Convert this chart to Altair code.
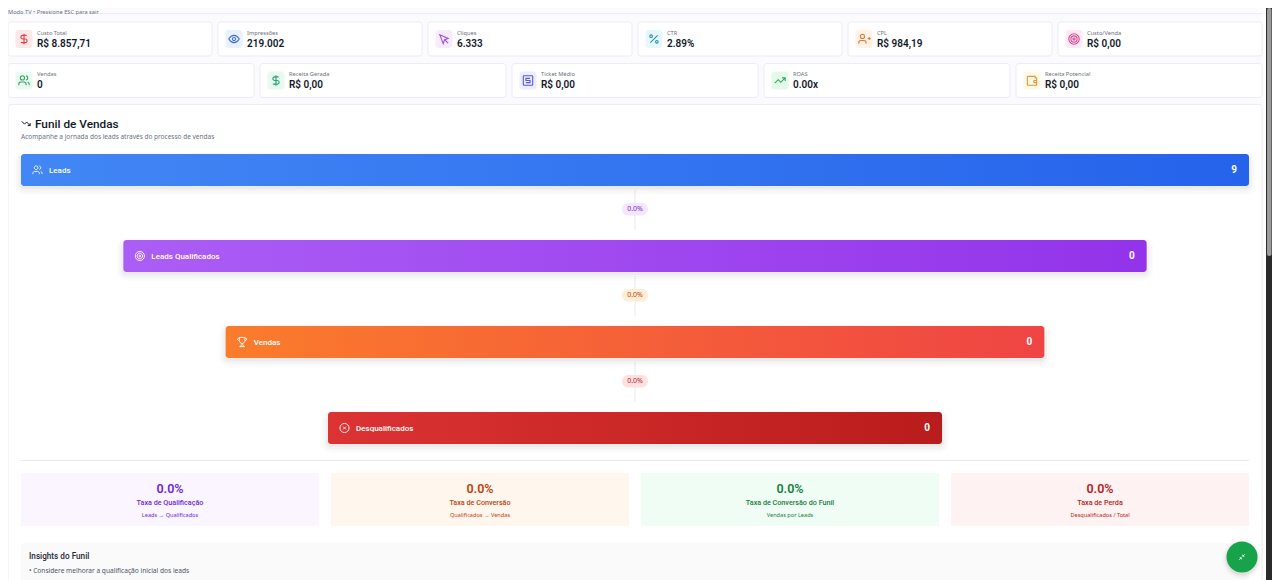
import altair as alt
import pandas as pd

# KPI rows
top_labels = ["Custo Total", "Impressões", "Cliques", "CTR", "CPL", "Custo/Venda"]
top_values = ["R$ 8.857,71", "219.002", "6.333", "2.89%", "R$ 984,19", "R$ 0,00"]
top_icons = ["dollar", "eye", "cursor", "percent", "userplus", "target"]
bottom_labels = ["Vendas", "Receita Gerada", "Ticket Médio", "ROAS", "Receita Potencial"]
bottom_values = ["0", "R$ 0,00", "R$ 0,00", "0.00x", "R$ 0,00"]
bottom_icons = ["users", "dollar", "ticket", "trendup", "wallet"]

# funnel
stage_names = ["Leads", "Leads Qualificados", "Vendas", "Desqualificados"]
stage_counts = [9, 0, 0, 0]
stage_widths = [100, 83.33, 66.67, 50]  # percent of the funnel width
stage_icons = ["users", "target", "trophy", "circlex"]
step_rates = ["0.0%", "0.0%", "0.0%"]

# rate boxes
rate_values = ["0.0%", "0.0%", "0.0%", "0.0%"]
rate_names = ["Taxa de Qualificação", "Taxa de Conversão", "Taxa de Conversão do Funil", "Taxa de Perda"]
rate_notes = ["Leads → Qualificados", "Qualificados → Vendas", "Vendas por Leads", "Desqualificados / Total"]

FONT = "Noto Sans"
STRONG = "Roboto"  # narrower, for the larger figures and headings
W, H = 1264, 572  # anything wider gets squeezed by the page

ICON_PATHS = {
    "dollar": "M0-10v20M5-7h-7.5a3.5 3.5 0 0 0 0 7h5a3.5 3.5 0 0 1 0 7h-8.5",
    "eye": "M-10 0C-7-5-3.5-7 0-7S7-5 10 0C7 5 3.5 7 0 7S-7 5-10 0ZM3 0a3 3 0 1 1-6 0a3 3 0 1 1 6 0Z",
    "cursor": "M-8-8L-1.5 9L1 1.5L8-1ZM2 2L8 8",
    "percent": "M7-7L-7 7M-3-5.5a2.5 2.5 0 1 1-5 0a2.5 2.5 0 1 1 5 0ZM8 5.5a2.5 2.5 0 1 1-5 0a2.5 2.5 0 1 1 5 0Z",
    "userplus": "M4 9v-2a4 4 0 0 0-4-4h-6a4 4 0 0 0-4 4v2M1-5a4 4 0 1 1-8 0a4 4 0 1 1 8 0ZM7-1h6M10-4v6",
    "target": "M10 0a10 10 0 1 1-20 0a10 10 0 1 1 20 0ZM6 0a6 6 0 1 1-12 0a6 6 0 1 1 12 0ZM2 0a2 2 0 1 1-4 0a2 2 0 1 1 4 0Z",
    "users": "M4 9v-2a4 4 0 0 0-4-4h-6a4 4 0 0 0-4 4v2M1-5a4 4 0 1 1-8 0a4 4 0 1 1 8 0ZM4-8.9a4 4 0 0 1 0 7.8M10 9v-2a4 4 0 0 0-3-3.9",
    "ticket": "M-8-9h16a1 1 0 0 1 1 1v16a1 1 0 0 1-1 1h-16a1 1 0 0 1-1-1v-16a1 1 0 0 1 1-1ZM4-4h-8v4h8v4h-8",
    "trendup": "M10-5L1.5 3.5L-3.5-1.5L-10 5M4-5h6v6",
    "trenddown": "M10 5L1.5-3.5L-3.5 1.5L-10-5M4 5h6v-6",
    "wallet": "M-9-6a2 2 0 0 1 2-2h13v3h2a1 1 0 0 1 1 1v12a1 1 0 0 1-1 1h-15a2 2 0 0 1-2-2ZM9 0h-4a2 2 0 0 0 0 4h4",
    "trophy": "M-6-10h12v7a6 6 0 0 1-12 0ZM-6-8h-3a3 3 0 0 0 3 5M6-8h3a3 3 0 0 1-3 5M0 3v4M-6 10h12M-3 10l1-4M3 10l-1-4",
    "circlex": "M10 0a10 10 0 1 1-20 0a10 10 0 1 1 20 0ZM3-3l-6 6M-3-3l6 6",
    "shrink": "M-3 3L-8 8M3-3L8-8M-7 2h5v5M2-7v5h5",
}

top_colors = [("#fde8e8", "#d8434a"), ("#eaf1fe", "#3b6fd8"), ("#f6ecfe", "#9d4fe0"),
              ("#e6f8fb", "#2a93ad"), ("#fff2e6", "#e4793d"), ("#fdeaf4", "#d9488f")]
bottom_colors = [("#e9fbf0", "#37a566"), ("#e6f9f1", "#2f9c74"), ("#ecedfd", "#5f58d0"),
                 ("#e4fae9", "#37a566"), ("#fff8e6", "#d99a3a")]
stage_stops = [("#4287f5", "#2563eb"), ("#ab5ef5", "#9333ea"), ("#fb7c2c", "#ef4444"), ("#dc3333", "#b91c1c")]
pill_colors = [("#f3e8ff", "#7e22ce"), ("#ffedd5", "#c2410c"), ("#fee2e2", "#b91c1c")]
rate_colors = [("#faf5ff", "#6d28d9"), ("#fff7ed", "#c2410c"), ("#f0fdf4", "#15803d"), ("#fef2f2", "#b91c1c")]

# page pixels -> chart pixels, the page margin takes the first 8
x_enc = alt.X("x:Q", scale=alt.Scale(domain=[8, 8 + W], range=[0, W], nice=False, zero=False), axis=None)
y_enc = alt.Y("y:Q", scale=alt.Scale(domain=[8, 8 + H], range=[0, H], nice=False, zero=False), axis=None)


def boxes(rows, **mark):
    return alt.Chart(pd.DataFrame(rows)).mark_rect(**mark).encode(
        x=x_enc, x2="x2:Q", y=y_enc, y2="y2:Q", fill=alt.Fill("c:N", scale=None))


def texts(rows, size, weight=400, align="left", font=FONT):
    return alt.Chart(pd.DataFrame(rows)).mark_text(
        font=font, fontSize=size, fontWeight=weight, align=align, baseline="middle"
    ).encode(x=x_enc, y=y_enc, text="t:N", color=alt.Color("c:N", scale=None))


def icon(name, cx, cy, px, color, stroke=1.0):
    return alt.Chart(pd.DataFrame([{"x": cx, "y": cy}])).mark_point(
        shape=ICON_PATHS[name], size=(px / 12) ** 2, filled=False, stroke=color,
        strokeWidth=stroke, opacity=1
    ).encode(x=x_enc, y=y_enc)


def box(x, x2, y, y2, c):
    return {"x": x, "x2": x2, "y": y, "y2": y2, "c": c}


layers = []

# page frame
layers.append(boxes([box(8, 1270, 8, 13, "#fcfcff")]))
layers.append(boxes([box(8, 1262, 13, 14, "#eeeef2")]))
layers.append(boxes([box(1262, 1270, 8, 580, "#ffffff")]))
layers.append(texts([{"x": 8, "y": 11.5, "t": "Modo TV • Pressione ESC para sair", "c": "#6b7280"}], 5.7))


def kpi_row(labels, values, icons, colors, y, y2):
    n = len(labels)
    left, right, gap = 8, 1262, 6
    w = (right - left - gap * (n - 1)) / n
    cards, tiles, names, nums = [], [], [], []
    out = []
    for i in range(n):
        x = left + i * (w + gap)
        cards.append(box(x, x + w, y, y2, "#ffffff"))
        tiles.append(box(x + 7.5, x + 24.5, y + 8, y + 26, colors[i][0]))
        names.append({"x": x + 29, "y": y + 10.5, "t": labels[i], "c": "#6b7280"})
        nums.append({"x": x + 29, "y": y + 21.5, "t": values[i], "c": "#111827"})
        out.append((icons[i], x + 16, y + 17, 12.5, colors[i][1], 1.1))
    res = [boxes(cards, stroke="#ececf1", strokeWidth=1, cornerRadius=3),
           boxes(tiles, cornerRadius=3),
           texts(names, 5.7), texts(nums, 10, 600, font=STRONG)]
    res += [icon(*a) for a in out]
    return res


layers += kpi_row(top_labels, top_values, top_icons, top_colors, 22, 56)
layers += kpi_row(bottom_labels, bottom_values, bottom_icons, bottom_colors, 63.5, 97.5)

# main card
layers.append(boxes([box(8, 1262, 104.5, 590, "#ffffff")], stroke="#ececf1", strokeWidth=1, cornerRadius=3))
layers.append(icon("trenddown", 26, 123.5, 10, "#111827"))
layers.append(texts([{"x": 35, "y": 123.5, "t": "Funil de Vendas", "c": "#111827"}], 11.8, 500, font=STRONG))
layers.append(texts([{"x": 21, "y": 136.5, "t": "Acompanhe a jornada dos leads através do processo de vendas",
                      "c": "#6b7280"}], 6.5))

# funnel bars, all centred on the same axis
center, full = 635, 1228
bar_h, pitch, first = 32, 86, 154
for i, name in enumerate(stage_names):
    half = full * stage_widths[i] / 200
    x, x2 = center - half, center + half
    y, y2 = first + i * pitch, first + i * pitch + bar_h
    if i < len(step_rates):
        layers.append(boxes([box(center - 0.5, center + 0.5, y2 + 4, y2 + 44, "#e9eaee")]))
        layers.append(boxes([box(center - 13, center + 13, y2 + 17, y2 + 29.5, pill_colors[i][0])], cornerRadius=6))
        layers.append(texts([{"x": center, "y": y2 + 23, "t": step_rates[i], "c": pill_colors[i][1]}], 7, 400, "center"))
    for d, op in [(7, 0.012), (5, 0.015), (3, 0.02), (1, 0.03)]:
        layers.append(boxes([box(x - d, x2 + d, y + 2 - d + 3, y2 + 2 + d, "#000000")], opacity=op, cornerRadius=3 + d))
    layers.append(alt.Chart(pd.DataFrame([box(x, x2, y, y2, "")])).mark_rect(
        cornerRadius=3,
        color=alt.Gradient(gradient="linear", x1=0, x2=1, y1=0, y2=0,
                           stops=[alt.GradientStop(color=stage_stops[i][0], offset=0),
                                  alt.GradientStop(color=stage_stops[i][1], offset=1)])
    ).encode(x=x_enc, x2="x2:Q", y=y_enc, y2="y2:Q"))
    layers.append(icon(stage_icons[i], x + 16.5, y + 16, 11, "#ffffff", 0.9))
    layers.append(texts([{"x": x + 28, "y": y + 16.5, "t": name, "c": "#ffffff"}], 8, 500, font=STRONG))
    layers.append(texts([{"x": x2 - 12, "y": y + 16, "t": str(stage_counts[i]), "c": "#ffffff"}], 10, 700, "right", STRONG))

layers.append(boxes([box(21, 1249, 460, 461, "#e8e9ed")]))

# rate boxes
rw = (full - 3 * 12) / 4
for i in range(4):
    x = 21 + i * (rw + 12)
    mid = x + rw / 2
    fill, ink = rate_colors[i]
    layers.append(boxes([box(x, x + rw, 473, 526, fill)]))
    layers.append(texts([{"x": mid, "y": 489, "t": rate_values[i], "c": ink}], 12.5, 600, "center", STRONG))
    layers.append(texts([{"x": mid, "y": 503, "t": rate_names[i], "c": ink}], 7.2, 500, "center", STRONG))
    layers.append(texts([{"x": mid, "y": 515, "t": rate_notes[i], "c": ink}], 5.6, 400, "center"))

# insights
layers.append(boxes([box(21, 1249, 543, 590, "#fafafa")], cornerRadius=3))
layers.append(texts([{"x": 29, "y": 557, "t": "Insights do Funil", "c": "#1f2937"}], 8.2, 500, font=STRONG))
layers.append(texts([{"x": 29, "y": 571, "t": "• Considere melhorar a qualificação inicial dos leads", "c": "#4b5563"}], 6.6))

# floating button
for d, op in [(20, 0.02), (18, 0.03), (16.5, 0.05)]:
    layers.append(alt.Chart(pd.DataFrame([{"x": 1242, "y": 559}])).mark_circle(
        size=4 * d * d, color="#000000", opacity=op).encode(x=x_enc, y=y_enc))
layers.append(alt.Chart(pd.DataFrame([{"x": 1242, "y": 557}])).mark_circle(
    size=961, color="#16a34a", opacity=1).encode(x=x_enc, y=y_enc))
layers.append(icon("shrink", 1242, 557, 8, "#ffffff", 0.9))

# browser scrollbar, only the part that fits inside the chart
layers.append(boxes([box(1266, 1272, 8, 580, "#2b2b2b")]))
layers.append(boxes([box(1267, 1271.5, 8, 256, "#9b9b9b")], cornerRadius=2))

chart = alt.layer(*layers).properties(
    width=W, height=H, padding=0, background="#fbfbfe",
    autosize=alt.AutoSizeParams(type="none")
).configure_view(stroke=None)

chart.save("out.html", embed_options={"renderer": "svg", "actions": False})
